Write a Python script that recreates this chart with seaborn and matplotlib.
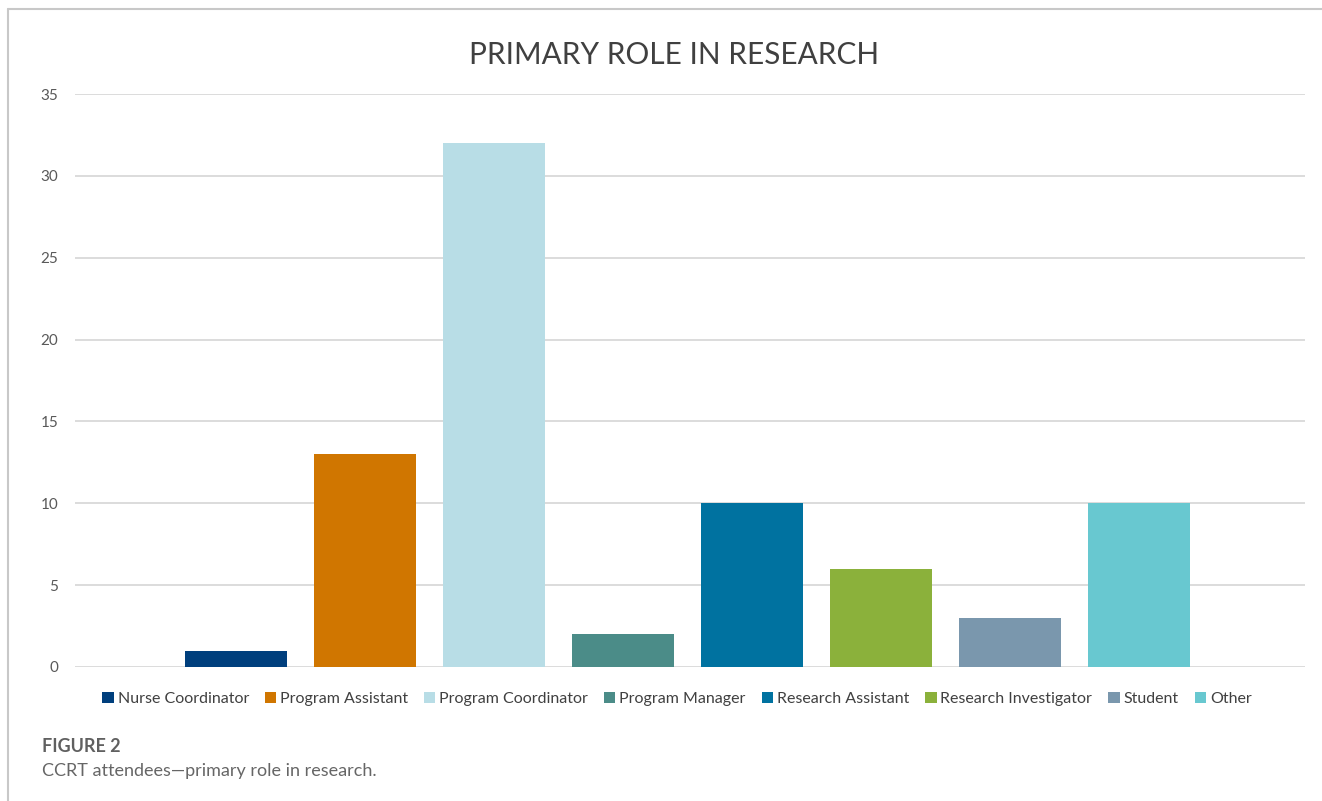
import matplotlib
matplotlib.use("Agg")
import matplotlib.pyplot as plt
from matplotlib.patches import Patch
from matplotlib.lines import Line2D
import seaborn as sns
import pandas as pd

roles = ["Nurse Coordinator", "Program Assistant", "Program Coordinator",
         "Program Manager", "Research Assistant", "Research Investigator",
         "Student", "Other"]
counts = [1, 13, 32, 2, 10, 6, 3, 10]
colors = ["#003F7D", "#D07600", "#B8DDE6", "#4B8C88",
          "#0072A0", "#8BB13B", "#7A97AD", "#68C8D0"]
y_ticks = [0, 5, 10, 15, 20, 25, 30, 35]

sns.set_theme(style="white")
plt.rcParams["font.family"] = ["Lato", "DejaVu Sans"]

W, H = 1322, 801
fig = plt.figure(figsize=(W / 100, H / 100), dpi=100)
ax = fig.add_axes([75 / W, 1 - 667 / H, (1305 - 75) / W, (667 - 94) / H])

df = pd.DataFrame({"role": roles, "count": counts})
palette = dict(zip(roles, colors))
sns.barplot(data=df, x="role", y="count", hue="role", palette=palette,
            order=roles, hue_order=roles, dodge=False, width=0.79,
            saturation=1, legend=False, linewidth=0, ax=ax, zorder=3)

ax.set_ylim(0, 35)
ax.set_xlim(-1.25, len(roles) - 1 + 1.29)
ax.set_yticks(y_ticks)
ax.set_yticklabels([str(t) for t in y_ticks], fontsize=11, color="#595959")
ax.tick_params(axis="y", length=0, pad=12)
ax.set_xticks([])
ax.set_xlabel("")
ax.set_ylabel("")
for s in ax.spines.values():
    s.set_visible(False)
ax.grid(axis="y", color="#D9D9D9", linewidth=1.3, zorder=0)
ax.set_axisbelow(True)

fig.text(674 / W, 1 - 55 / H, "PRIMARY ROLE IN RESEARCH", ha="center",
         va="center", fontsize=21.4, color="#404040")

handles = [Patch(facecolor=c, edgecolor="none") for c in colors]
fig.legend(handles, roles, loc="center", bbox_to_anchor=(677 / W, 1 - 699 / H),
           ncol=len(roles), frameon=False, fontsize=11.5, handlelength=0.7,
           handleheight=0.7, handletextpad=0.25, columnspacing=1.0,
           labelcolor="#404040")

fig.text(42 / W, 1 - 747 / H, "FIGURE 2", ha="left", va="center",
         fontsize=13, fontweight="bold", color="#606060")
fig.text(42 / W, 1 - 771 / H, "CCRT attendees\u2014primary role in research.",
         ha="left", va="center", fontsize=13, color="#666666")

fig.add_artist(Line2D([8 / W, 8 / W], [0, 1 - 9 / H], color="#C8C8C8",
                      linewidth=1.5, transform=fig.transFigure))
fig.add_artist(Line2D([8 / W, 1], [1 - 9 / H, 1 - 9 / H], color="#C8C8C8",
                      linewidth=1.5, transform=fig.transFigure))

fig.savefig("out.png", dpi=100, facecolor="white")
